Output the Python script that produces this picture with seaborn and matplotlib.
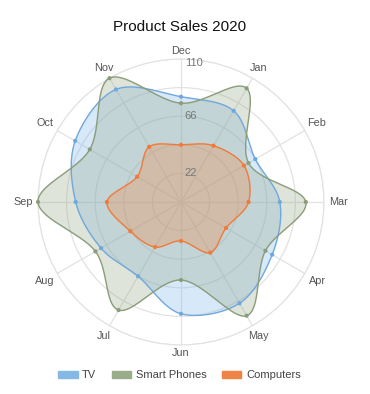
import numpy as np
import pandas as pd
import matplotlib
matplotlib.use("Agg")
import matplotlib.pyplot as plt
import seaborn as sns
from matplotlib.patches import Patch

# Data
months = ["Dec", "Jan", "Feb", "Mar", "Apr", "May", "Jun", "Jul", "Aug", "Sep", "Oct", "Nov"]
tv = [81, 81, 66, 76, 81, 90, 86, 66, 71, 81, 94, 100]
smart_phones = [76, 101, 60, 96, 75, 101, 60, 96, 76, 110, 81, 110]
computers = [44, 50, 56, 52, 40, 45, 30, 40, 45, 57, 39, 49]
series = ["TV", "Smart Phones", "Computers"]
r_ticks = [0, 22, 44, 66, 88, 110]
r_tick_labels = ["22", "66", "110"]

line_colors = {"TV": "#6fa8dc", "Smart Phones": "#8a9c79", "Computers": "#f07a3a"}
fill_colors = {"TV": "#7cb5ec", "Smart Phones": "#97a886", "Computers": "#f0853f"}
legend_colors = {"TV": "#86b8e6", "Smart Phones": "#9aad8a", "Computers": "#ef8245"}

angles = np.deg2rad(np.arange(len(months)) * 360 / len(months))
df = pd.DataFrame({
    "month": months * 3,
    "theta": np.tile(angles, 3),
    "value": tv + smart_phones + computers,
    "series": np.repeat(series, len(months)),
})


def smooth_closed(theta, r, n=40):
    # closed Catmull-Rom curve through the points, done in cartesian space
    x = r * np.sin(theta)
    y = r * np.cos(theta)
    pts = np.column_stack([x, y])
    k = len(pts)
    t = np.linspace(0, 1, n, endpoint=False)[:, None]
    segs = []
    for i in range(k):
        p0, p1, p2, p3 = pts[(i - 1) % k], pts[i], pts[(i + 1) % k], pts[(i + 2) % k]
        seg = 0.5 * (2 * p1 + (-p0 + p2) * t + (2 * p0 - 5 * p1 + 4 * p2 - p3) * t ** 2
                     + (-p0 + 3 * p1 - 3 * p2 + p3) * t ** 3)
        segs.append(seg)
    out = np.vstack(segs + [pts[:1]])
    th = np.unwrap(np.arctan2(out[:, 0], out[:, 1]))
    rr = np.hypot(out[:, 0], out[:, 1])
    return th, rr


sns.set_style("white")
plt.rcParams["font.family"] = ["Liberation Sans", "DejaVu Sans"]

fig = plt.figure(figsize=(3.7, 3.94), dpi=100)
ax = fig.add_axes([38 / 370, 49 / 394, 286 / 370, 286 / 394], projection="polar")
ax.set_theta_zero_location("N")
ax.set_theta_direction(-1)

for name in series:
    sub = df[df["series"] == name]
    th, rr = smooth_closed(sub["theta"].to_numpy(), sub["value"].to_numpy())
    ax.fill(th, rr, color=fill_colors[name], alpha=0.3, lw=0, clip_on=False, zorder=2)
    ax.plot(th, rr, color=line_colors[name], lw=1, clip_on=False, zorder=3)

sns.scatterplot(data=df, x="theta", y="value", hue="series", palette=line_colors,
                s=9, edgecolor="none", legend=False, ax=ax, zorder=4, clip_on=False)

ax.set_ylim(0, 110)
ax.set_yticks(r_ticks)
ax.set_yticklabels([])
ax.set_xticks(angles)
ax.set_xticklabels([])
ax.set_xlabel("")
ax.set_ylabel("")
ax.grid(True, color="#e2e2e2", lw=0.9)
ax.spines["polar"].set_color("#e2e2e2")
ax.set_axisbelow(True)

# month labels just outside the outer ring (wider gap at the sides)
for a, m in zip(angles, months):
    ax.text(a, 116.5 + 5 * abs(np.sin(a)), m, ha="center", va="center",
            fontsize=7.8, color="#555555", clip_on=False)

for lbl, off in zip(r_tick_labels, [(3, 0), (3, 0), (4, -4)]):
    ax.annotate(lbl, xy=(0, float(lbl)), xytext=off, textcoords="offset pixels",
                ha="left", va="center", fontsize=8, color="#777777", zorder=5)

fig.text(0.485, 0.931, "Product Sales 2020", ha="center", va="center", fontsize=11, color="#111111")

handles = [Patch(color=legend_colors[s], label=s) for s in series]
fig.legend(handles=handles, loc="center", bbox_to_anchor=(0.485, 0.048), ncol=3,
           frameon=False, fontsize=8, handlelength=1.75, handleheight=0.63,
           handletextpad=0.4, columnspacing=1.4, labelcolor="#444444")

fig.savefig("out.png", dpi=100)
